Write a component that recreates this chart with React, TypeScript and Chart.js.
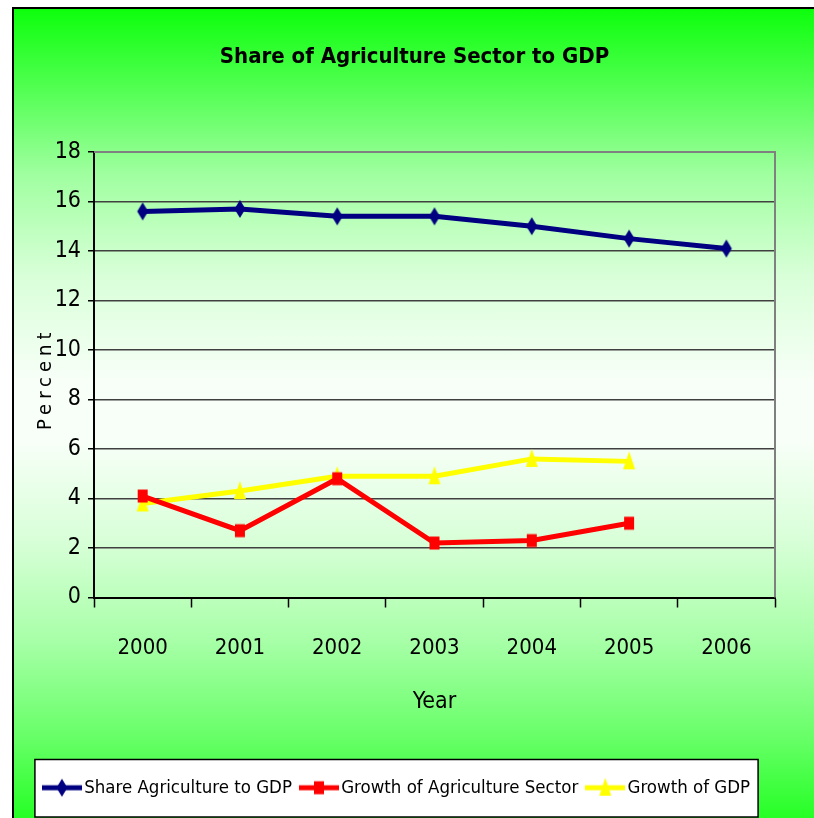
import React, { useEffect, useRef } from 'react';
import { Chart, registerables } from 'chart.js';

Chart.register(...registerables);

const years = ['2000', '2001', '2002', '2003', '2004', '2005', '2006'];
const shareAgriculture = [15.6, 15.7, 15.4, 15.4, 15.0, 14.5, 14.1];
const growthAgriculture = [4.1, 2.7, 4.8, 2.2, 2.3, 3.0, null];
const growthGDP = [3.8, 4.3, 4.9, 4.9, 5.6, 5.5, null];
const seriesNames = ['Share Agriculture to GDP', 'Growth of Agriculture Sector', 'Growth of GDP'];
const seriesColors = ['#000080', '#ff0000', '#ffff00'];
const seriesMarkers = ['diamond', 'square', 'triangle'];
const yMin = 0;
const yMax = 18;
const yStep = 2;

const FONT = '"Liberation Sans Narrow", "DejaVu Sans Condensed", "Roboto Condensed", "Liberation Sans", sans-serif';
const LEGEND_SHIFT = 6;

function drawMarker(ctx: CanvasRenderingContext2D, marker: string, cx: number, cy: number) {
  ctx.beginPath();
  if (marker === 'diamond') {
    ctx.moveTo(cx, cy - 9);
    ctx.lineTo(cx + 5.5, cy);
    ctx.lineTo(cx, cy + 9);
    ctx.lineTo(cx - 5.5, cy);
  } else if (marker === 'square') {
    ctx.rect(cx - 5, cy - 6.5, 10, 13);
  } else {
    ctx.moveTo(cx, cy - 10);
    ctx.lineTo(cx + 6, cy + 8);
    ctx.lineTo(cx - 6, cy + 8);
  }
  ctx.closePath();
  ctx.fill();
}

function makePointImage(color: string, marker: string) {
  const c = document.createElement('canvas');
  c.width = 14;
  c.height = 22;
  const ctx = c.getContext('2d')!;
  ctx.fillStyle = color;
  drawMarker(ctx, marker, 7, 11);
  return c;
}

function makeLegendImage(color: string, marker: string) {
  const c = document.createElement('canvas');
  c.width = 40;
  c.height = 22;
  const ctx = c.getContext('2d')!;
  ctx.strokeStyle = color;
  ctx.fillStyle = color;
  ctx.lineWidth = 5;
  ctx.beginPath();
  ctx.moveTo(0, 11);
  ctx.lineTo(40, 11);
  ctx.stroke();
  drawMarker(ctx, marker, 20, 11);
  return c;
}

const decorPlugin = {
  id: 'decor',
  afterLayout(chart: any) {
    const t = chart.titleBlock;
    if (t) {
      t.left += 21;
      t.right += 21;
    }
    const lg = chart.legend;
    if (lg) {
      lg.left += LEGEND_SHIFT;
      lg.right += LEGEND_SHIFT;
    }
  },
  beforeDraw(chart: any) {
    const lg = chart.legend;
    if (lg && lg.legendHitBoxes && lg.legendHitBoxes.length) {
      const hb = lg.legendHitBoxes;
      const first = hb[0];
      const last = hb[hb.length - 1];
      const left = first.left - 14;
      const right = last.left + last.width + 8;
      const top = first.top - 19;
      const bottom = first.top + first.height + 20;
      const ctx = chart.ctx;
      ctx.save();
      ctx.fillStyle = '#ffffff';
      ctx.fillRect(left, top, right - left, bottom - top);
      ctx.strokeStyle = '#000000';
      ctx.lineWidth = 1.5;
      ctx.strokeRect(left, top, right - left, bottom - top);
      ctx.restore();
    }
  },
  afterDraw(chart: any) {
    const { ctx, chartArea } = chart;
    ctx.save();
    ctx.strokeStyle = '#808080';
    ctx.lineWidth = 2;
    ctx.beginPath();
    ctx.moveTo(chartArea.left, chartArea.top);
    ctx.lineTo(chartArea.right, chartArea.top);
    ctx.lineTo(chartArea.right, chartArea.bottom);
    ctx.stroke();
    // y axis title with letter spacing
    ctx.translate(46, (chartArea.top + chartArea.bottom) / 2 + 4);
    ctx.rotate(-Math.PI / 2);
    ctx.fillStyle = '#000';
    ctx.font = '20px ' + FONT;
    (ctx as any).letterSpacing = '5px';
    ctx.textAlign = 'center';
    ctx.textBaseline = 'middle';
    ctx.fillText('Percent', 0, 0);
    ctx.restore();
  },
};

export default function App() {
  const ref = useRef<HTMLCanvasElement | null>(null);

  useEffect(() => {
    document.body.style.margin = '0';
    const canvas = ref.current!;
    const legendImages = seriesColors.map((c, i) => makeLegendImage(c, seriesMarkers[i]));
    const pointImages = seriesColors.map((c, i) => makePointImage(c, seriesMarkers[i]));
    const datasets = [shareAgriculture, growthAgriculture, growthGDP].map((data, i) => ({
      label: seriesNames[i],
      data,
      borderColor: seriesColors[i],
      backgroundColor: seriesColors[i],
      borderWidth: 5,
      pointStyle: pointImages[i],
      pointRadius: 8,
      pointBorderWidth: 0,
      pointBackgroundColor: seriesColors[i],
      tension: 0,
      spanGaps: false,
    }));
    const chart = new Chart(canvas, {
      type: 'line',
      data: { labels: years, datasets },
      plugins: [decorPlugin],
      options: {
        animation: false,
        responsive: false,
        maintainAspectRatio: false,
        devicePixelRatio: 1,
        layout: { padding: { left: 12, right: 39, top: 0, bottom: 11 } },
        plugins: {
          tooltip: { enabled: false },
          title: {
            display: true,
            text: 'Share of Agriculture Sector to GDP',
            color: '#000',
            font: { family: FONT, size: 22, weight: 'bold' },
            padding: { top: 44, bottom: 81.6 },
          },
          legend: {
            display: true,
            position: 'bottom',
            labels: {
              color: '#000',
              font: { family: FONT, size: 18.5 },
              usePointStyle: true,
              pointStyleWidth: 26,
              padding: 14,
              generateLabels: (ch: any) => {
                const items = Chart.defaults.plugins.legend.labels.generateLabels(ch);
                return items.map((it: any, i: number) => ({ ...it, pointStyle: legendImages[i] }));
              },
            },
          },
        },
        scales: {
          x: {
            type: 'category',
            offset: true,
            afterFit: (s: any) => { s.height = 167; },
            border: { color: '#000', width: 2 },
            grid: {
              display: true,
              offset: true,
              drawOnChartArea: false,
              drawTicks: true,
              tickLength: 10,
              tickColor: '#000',
              tickWidth: 1.5,
              color: '#000',
            },
            ticks: { color: '#000', font: { family: FONT, size: 22 }, padding: 28, maxRotation: 0 },
            title: {
              display: true,
              text: 'Year',
              color: '#000',
              font: { family: FONT, size: 23 },
              padding: { top: 0, bottom: 49 },
            },
          },
          y: {
            min: yMin,
            max: yMax,
            afterFit: (s: any) => { s.width = 82; },
            border: { color: '#000', width: 2 },
            grid: {
              color: '#404040',
              lineWidth: 1.5,
              drawTicks: true,
              tickLength: 6,
              tickColor: '#000',
            },
            ticks: { stepSize: yStep, color: '#000', font: { family: FONT, size: 23 }, padding: 7 },
          },
        },
      },
    } as any);
    return () => chart.destroy();
  }, []);

  return (
    <div style={{ position: 'relative', width: 814, height: 818, overflow: 'hidden' }}>
      <div
        style={{
          position: 'absolute',
          left: 12,
          top: 7,
          width: 830,
          height: 830,
          borderLeft: '2px solid #000',
          borderTop: '2px solid #000',
          background:
            'linear-gradient(to bottom, #0dff0d 0%, #55ff55 10%, #a0ffa0 20%, #d8ffd8 32%, #f8fff8 45%, #f8fff8 52%, #d8ffd8 64%, #a8ffa8 76%, #66ff66 88%, #22ff22 98%)',
        }}
      />
      <canvas ref={ref} width={814} height={818} style={{ position: 'absolute', left: 0, top: 0 }} />
    </div>
  );
}
